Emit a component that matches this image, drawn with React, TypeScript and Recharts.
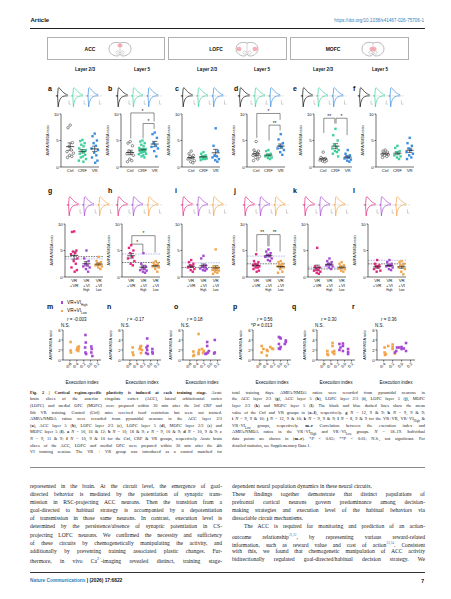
import React from "react";
import {
  ScatterChart,
  Scatter,
  LineChart,
  Line,
  XAxis,
  YAxis,
  ErrorBar,
  ReferenceLine,
  ReferenceDot,
} from "recharts";

const SANS = "'Liberation Sans', Arial, sans-serif";
const SERIF = "'Liberation Serif', 'DejaVu Serif', serif";

const GREEN = "#3fd19b";
const BLUE = "#3b8ee2";
const MAGENTA = "#e2297f";
const PURPLE = "#a64ad4";
const ORANGE = "#f3a54b";
const MEAN_BLUE = "#7f87e8";
const LINK = "#2f7fb9";

// ---- group names ----
const stageGroups = ["Ctrl", "CRF", "VR"];
const trainTickLines = [
  ["VR", "+VR", ""],
  ["VR", "+VI", "High"],
  ["VR", "+VI", "Low"],
];

// ---- a–f: AMPA/NMDA ratio (Ctrl, CRF, VR) ----
const aCtrl = [7.9, 7.4, 4.6, 3.9, 3.2, 2.9, 2.6, 2.2, 2.0, 1.8];
const aCrf = [5.1, 4.9, 4.5, 4.2, 3.9, 3.5, 3.2, 3.0, 2.8, 2.5, 2.3, 2.0, 1.8, 1.5, 1.2, 1.0];
const aVr = [6.3, 5.8, 5.0, 4.5, 4.0, 3.5, 3.2, 2.7, 2.2, 1.8, 1.2, 0.8];
const bCtrl = [4.8, 4.5, 4.0, 3.0, 2.7, 2.5, 2.2, 1.5, 1.2, 1.0];
const bCrf = [5.0, 4.8, 4.5, 4.2, 3.9, 3.6, 3.4, 3.3, 3.2, 3.0, 2.9, 2.8, 2.7, 2.5, 2.4, 2.2, 2.0, 1.8];
const bVr = [6.5, 6.2, 5.5, 4.5, 4.0, 3.8, 3.5, 3.0, 2.0];
const cCtrl = [3.0, 2.5, 2.2, 2.0, 1.8, 1.5, 1.2, 1.0, 0.8];
const cCrf = [2.8, 2.5, 2.2, 2.0, 2.0, 1.8, 1.6, 1.5, 1.5, 1.3];
const cVr = [7.3, 4.0, 3.0, 2.2, 2.0, 1.8, 1.5, 1.3, 1.0];
const dCtrl = [4.8, 3.2, 3.0, 2.7, 2.5, 2.2, 2.0, 1.8, 1.5, 1.2];
const dCrf = [3.2, 3.0, 2.5, 2.3, 2.2, 2.0, 1.8, 1.7, 1.5];
const dVr = [6.2, 5.2, 4.5, 4.0, 3.8, 3.5, 3.2, 2.8, 2.3];
const eCtrl = [2.8, 1.8, 1.6, 1.5, 1.4, 1.3, 1.2, 1.1, 1.0];
const eCrf = [7.2, 6.0, 5.0, 4.2, 3.8, 3.5, 3.2, 3.0, 2.8, 2.5, 2.0];
const eVr = [3.2, 2.5, 2.2, 2.0, 1.8, 1.6, 1.4, 1.2, 1.0];
const fCtrl = [3.2, 3.0, 2.8, 2.6, 2.5, 2.4, 2.3, 2.2, 2.0, 1.8];
const fCrf = [4.0, 3.6, 3.0, 2.8, 2.5, 2.2, 2.0, 1.8, 1.5];
const fVr = [5.5, 4.5, 4.0, 3.5, 3.2, 2.8, 2.5, 2.2, 1.8, 1.5];

// brackets: [from, to, height, left leg end, right leg end, label]
const bBrackets = [[1, 3, 10.2, 5.4, 8.6, "*"], [2, 3, 8.2, 5.4, 7.2, "*"]];
const dBrackets = [[1, 3, 10.1, 5.5, 8.9, "*"], [2, 3, 7.9, 5.0, 6.9, "**"]];
const eBrackets = [[1, 2, 9.2, 6.4, 8.2, "**"], [2, 3, 9.2, 8.2, 6.0, "*"]];

// ---- g–l: AMPA/NMDA ratio (VR+VR, VR+VI High, VR+VI Low) ----
const gVrVr = [8.6, 8.5, 5.0, 4.8, 4.5, 4.3, 3.5, 3.0, 2.5, 1.8, 1.3, 1.0];
const gHigh = [5.0, 3.5, 3.0, 2.5, 2.2, 2.0, 1.8, 1.5, 1.0];
const gLow = [3.8, 3.0, 2.8, 2.5, 2.3, 2.2, 2.0, 1.8, 1.5];
const hVrVr = [6.0, 5.5, 5.0, 4.5, 3.8, 3.5, 3.0, 2.5, 2.2];
const hHigh = [4.5, 2.5, 2.0, 1.8, 1.5, 1.3, 1.2, 1.0, 0.8];
const hLow = [3.0, 2.7, 2.5, 2.3, 2.2, 2.0, 1.8, 1.5, 1.0];
const iVrVr = [3.2, 2.8, 2.5, 2.2, 2.0, 1.8, 1.5, 1.3, 1.0];
const iHigh = [4.0, 3.5, 2.2, 2.0, 1.8, 1.6, 1.5, 1.3, 1.2];
const iLow = [5.2, 2.0, 1.8, 1.6, 1.5, 1.3, 1.2, 1.0, 0.8, 0.6];
const jVrVr = [4.3, 3.0, 2.8, 2.5, 2.3, 2.2, 2.0, 1.8, 1.8, 1.5, 1.2, 1.0];
const jHigh = [5.2, 4.8, 4.5, 4.2, 4.0, 3.8, 3.5, 3.2, 3.0];
const jLow = [3.0, 2.8, 2.5, 2.3, 2.1, 2.0, 1.8, 1.5, 1.0, 0.8];
const kVrVr = [5.5, 2.0, 1.8, 1.5, 1.3, 1.2, 1.0, 0.8, 0.6];
const kHigh = [3.5, 3.0, 2.8, 2.5, 2.3, 2.2, 2.0, 1.8, 1.5];
const kLow = [2.8, 2.5, 2.2, 2.0, 1.8, 1.6, 1.5, 1.2, 1.0];
const lVrVr = [3.2, 2.5, 2.2, 2.0, 1.8, 1.5, 1.2, 1.0];
const lHigh = [3.2, 2.8, 2.5, 2.3, 2.2, 2.0, 1.8, 1.5, 1.3];
const lLow = [3.0, 2.8, 2.5, 2.2, 2.0, 1.8, 1.5, 1.0, 0.5];

const hBrackets = [[1, 3, 7.8, 6.4, 4.6, "*"], [1, 2, 6.2, 6.4, 4.6, "*"]];
const jBrackets = [[1, 2, 8.0, 4.8, 5.8, "**"], [2, 3, 8.0, 5.8, 4.8, "**"]];

// ---- m–r: execution index vs AMPA/NMDA ratio ----
const mLow = [[-0.58, 3.6], [-0.58, 1.9], [-0.57, 1.5], [-0.38, 2.5], [-0.37, 2.1], [-0.36, 1.8], [-0.35, 2.3], [-0.4, 2.0], [-0.34, 2.7]];
const mHigh = [[-0.15, 5.0], [-0.14, 3.5], [-0.16, 2.5], [-0.15, 1.5], [-0.13, 1.2], [0.02, 2.7], [0.03, 2.2], [0.02, 1.5], [0.05, 0.8]];
const nLow = [[-0.52, 2.5], [-0.52, 1.5], [-0.5, 1.0], [-0.3, 2.6], [-0.3, 2.3], [-0.28, 1.4], [-0.25, 2.0], [-0.28, 2.8], [-0.32, 2.2]];
const nHigh = [[-0.1, 4.3], [-0.12, 2.5], [-0.1, 2.0], [-0.13, 1.4], [-0.08, 1.2], [-0.09, 2.8], [0.05, 2.2], [0.05, 1.6], [0.06, 1.3]];
const oLow = [[-0.5, 1.7], [-0.48, 1.0], [-0.5, 0.8], [-0.35, 5.2], [-0.35, 1.5], [-0.33, 2.0], [-0.35, 1.2], [-0.25, 2.2], [-0.2, 1.8], [-0.22, 1.4]];
const oHigh = [[-0.1, 3.6], [-0.1, 2.8], [-0.12, 1.3], [-0.08, 1.5], [-0.15, 1.2], [0.12, 4.0], [0.12, 1.5], [0.1, 1.3], [-0.05, 1.8]];
const pLow = [[-0.55, 2.8], [-0.55, 1.5], [-0.5, 2.2], [-0.4, 2.0], [-0.4, 0.9], [-0.38, 1.8], [-0.25, 2.3], [-0.22, 2.2], [-0.3, 2.6]];
const pHigh = [[-0.05, 4.6], [-0.02, 4.5], [0.0, 4.3], [-0.05, 3.2], [-0.02, 2.2], [0.0, 2.6], [0.15, 3.9], [0.15, 3.6], [0.12, 3.2], [-0.05, 2.3]];
const qLow = [[-0.5, 1.8], [-0.5, 1.2], [-0.48, 1.0], [-0.35, 3.4], [-0.35, 2.8], [-0.33, 1.5], [-0.3, 1.8], [-0.3, 1.2], [-0.35, 1.6]];
const qHigh = [[-0.15, 3.2], [-0.15, 2.0], [-0.05, 3.3], [-0.05, 1.8], [-0.05, 2.8], [0.1, 2.2], [0.1, 1.6], [0.1, 1.2], [-0.12, 2.5]];
const rLow = [[-0.38, 2.5], [-0.38, 1.5], [-0.37, 1.0], [-0.35, 1.2], [-0.3, 2.8], [-0.2, 3.1], [-0.2, 2.2], [-0.15, 1.3], [-0.2, 2.6]];
const rHigh = [[-0.1, 2.5], [-0.12, 1.8], [-0.05, 2.5], [0.0, 2.2], [0.0, 2.6], [0.1, 3.4], [0.1, 1.8], [-0.15, 1.5], [0.05, 2.3]];
const corrR = ["-0.003", "-0.17", "0.18", "0.56", "0.30", "0.36"];
const corrP = ["N.S.", "N.S.", "N.S.", "*P = 0.013", "N.S.", "N.S."];
const corrTicks = [-0.6, -0.4, -0.2, 0, 0.2];
const corrTicksR = [-0.4, -0.2, 0, 0.2];

// ---- example traces (+40 mV outward / -70 mV inward) ----
const traceT = [0, 1, 1.5, 2, 3, 4, 5, 6, 7, 8, 9];
const traceUp = [0, 0, 7, 7.5, 6.5, 5, 3.8, 2.8, 2, 1.4, 1];
const traceDown = [0, 0, -10, -6, -3, -1.5, -0.7, -0.3, 0, 0, 0];
const scaleT = [10, 10, 11.5];
const scaleV = [-4, -7.5, -7.5];

// ---- layout (page px) ----
const stageAxisX = [61, 121, 182, 247, 314, 376];
const trainAxisX = [65, 122, 182, 247, 308, 368];
const corrAxisX = [63, 123, 183, 253, 317, 377];
const traceX1 = [55, 115, 180, 237, 300, 357];
const traceX2 = [66, 115, 180, 242, 302, 363];
const letterX = [48, 108, 175, 234, 293, 353];

const stageSets = [
  [aCtrl, aCrf, aVr], [bCtrl, bCrf, bVr], [cCtrl, cCrf, cVr],
  [dCtrl, dCrf, dVr], [eCtrl, eCrf, eVr], [fCtrl, fCrf, fVr],
];
const stageBr = [[], bBrackets, [], dBrackets, eBrackets, []];
const trainSets = [
  [gVrVr, gHigh, gLow], [hVrVr, hHigh, hLow], [iVrVr, iHigh, iLow],
  [jVrVr, jHigh, jLow], [kVrVr, kHigh, kLow], [lVrVr, lHigh, lLow],
];
const trainBr = [[], hBrackets, [], jBrackets, [], []];
const corrSets = [[mLow, mHigh], [nLow, nHigh], [oLow, oHigh], [pLow, pHigh], [qLow, qHigh], [rLow, rHigh]];

const mean = (v: number[]) => v.reduce((s, x) => s + x, 0) / v.length;
const sem = (v: number[]) => {
  const m = mean(v);
  const sd = Math.sqrt(v.reduce((s, x) => s + (x - m) ** 2, 0) / (v.length - 1));
  return sd / Math.sqrt(v.length);
};

// horizontal spread of points inside a group (px)
const jitterPx = [0, -2.2, 2.2, -1.1, 1.1, -3.2, 3.2, -0.5, 1.6, -2.7, 2.7, 0.5, -1.6, 3.6, -3.6, 0.9, -0.9, 2];

const axisLine = { stroke: "#111", strokeWidth: 0.6 };
const tickFont = { fontSize: 4.3, fill: "#111", fontFamily: SANS };

function dotShape(color: string, open: boolean) {
  return (p: any) => {
    const cx = p.cx + jitterPx[(p.payload?.k ?? 0) % jitterPx.length];
    if (open)
      return <circle cx={cx} cy={p.cy} r={1.25} fill="#fff" stroke="#111" strokeWidth={0.45} />;
    return <rect x={cx - 1.2} y={p.cy - 1.2} width={2.4} height={2.4} fill={color} />;
  };
}

const meanShape = (p: any) => (
  <line x1={p.cx - 4} x2={p.cx + 4} y1={p.cy} y2={p.cy} stroke="#111" strokeWidth={0.7} />
);

function brackets(list: any[], key: string) {
  const out: any[] = [];
  list.forEach((b, i) => {
    const [from, to, h, l, r, label] = b;
    const x0 = from + 0.05;
    const x1 = to - 0.05;
    const seg = { stroke: "#222", strokeWidth: 0.5, ifOverflow: "visible" as const };
    out.push(<ReferenceLine key={`${key}h${i}`} segment={[{ x: x0, y: h }, { x: x1, y: h }]} {...seg} />);
    out.push(<ReferenceLine key={`${key}l${i}`} segment={[{ x: x0, y: h }, { x: x0, y: l }]} {...seg} />);
    out.push(<ReferenceLine key={`${key}r${i}`} segment={[{ x: x1, y: h }, { x: x1, y: r }]} {...seg} />);
    out.push(
      <ReferenceDot
        key={`${key}t${i}`}
        x={(from + to) / 2}
        y={h}
        r={0}
        ifOverflow="visible"
        label={{ value: label, position: "top", offset: 0.3, fontSize: 5, fill: "#111", fontFamily: SANS }}
      />
    );
  });
  return out;
}

function GroupPanel({ left, top, sets, colors, br, train, refs }: any) {
  const pts = sets.map((vals: number[], g: number) => vals.map((v, k) => ({ x: g + 1, y: v, k })));
  const means = sets.map((vals: number[], g: number) => ({ x: g + 1, y: mean(vals), e: sem(vals) }));
  return (
    <div style={{ position: "absolute", left: left - 16, top }}>
      <ScatterChart width={58} height={train ? 81 : 71} margin={{ top: 10, right: 4, bottom: 0, left: 0 }}>
        <XAxis
          type="number"
          dataKey="x"
          domain={[0.25, 3.35]}
          ticks={[1, 2, 3]}
          interval={0}
          tickFormatter={(v: number) => stageGroups[v - 1]}
          tickLine={false}
          tickSize={0}
          tickMargin={train ? 0.5 : 1.5}
          height={train ? 18 : 8}
          axisLine={axisLine}
          tick={train ? (p: any) => <TrainTick {...p} /> : tickFont}
        />
        <YAxis
          type="number"
          dataKey="y"
          domain={[0, 10]}
          ticks={[0, 5, 10]}
          interval={0}
          width={16}
          tickSize={1.5}
          tickMargin={0.8}
          axisLine={axisLine}
          tickLine={axisLine}
          tick={tickFont}
          label={{
            value: "AMPA/NMDA ratio",
            angle: -90,
            position: "insideLeft",
            offset: 3,
            style: { textAnchor: "middle" },
            fontSize: 3.7,
            fill: "#111",
            fontFamily: SANS,
          }}
        />
        {refs && (
          <ReferenceLine y={refs[1]} stroke={MEAN_BLUE} strokeDasharray="1.6 1" strokeWidth={0.55} />
        )}
        {refs && <ReferenceLine y={refs[0]} stroke="#111" strokeDasharray="1.6 1" strokeWidth={0.55} />}
        {brackets(br, "b")}
        {pts.map((d: any[], g: number) => (
          <Scatter
            key={g}
            data={d}
            shape={dotShape(colors[g], !train && g === 0)}
            isAnimationActive={false}
          />
        ))}
        <Scatter data={means} shape={meanShape} isAnimationActive={false}>
          <ErrorBar dataKey="e" direction="y" width={2.6} stroke="#111" strokeWidth={0.6} />
        </Scatter>
      </ScatterChart>
    </div>
  );
}

function TrainTick({ x, y, payload }: any) {
  const [a, b, c] = trainTickLines[payload.value - 1] || ["", "", ""];
  return (
    <text x={x} y={y} textAnchor="middle" fontSize={4.4} fill="#111" fontFamily={SANS}>
      <tspan x={x} dy={4.3}>{a}</tspan>
      <tspan x={x} dy={5.2}>{b}</tspan>
      <tspan x={x} dy={4.3} fontSize={3}>{c}</tspan>
    </text>
  );
}

function CorrPanel({ left, low, high, ticks, domain }: any) {
  const lowPts = low.map(([x, y]: number[]) => ({ x, y }));
  const highPts = high.map(([x, y]: number[]) => ({ x, y }));
  const sq = (c: string) => (p: any) => (
    <rect x={p.cx - 1.3} y={p.cy - 1.3} width={2.6} height={2.6} fill={c} />
  );
  return (
    <div style={{ position: "absolute", left: left - 14, top: 328 }}>
      <ScatterChart width={56} height={56} margin={{ top: 2, right: 4, bottom: 0, left: 0 }}>
        <XAxis
          type="number"
          dataKey="x"
          domain={domain}
          ticks={ticks}
          interval={0}
          tickFormatter={(v: number) => v.toFixed(1)}
          angle={-45}
          textAnchor="end"
          tickSize={1.5}
          tickMargin={0.5}
          height={24}
          axisLine={axisLine}
          tickLine={axisLine}
          tick={{ ...tickFont, fontSize: 4.1 }}
          label={{ value: "Execution index", position: "insideBottom", offset: 0, fontSize: 4.7, fill: "#111", fontFamily: SANS }}
        />
        <YAxis
          type="number"
          dataKey="y"
          domain={[0, 6]}
          ticks={[0, 2, 4, 6]}
          interval={0}
          width={14}
          tickSize={1.5}
          tickMargin={0.8}
          axisLine={axisLine}
          tickLine={axisLine}
          tick={tickFont}
          label={{
            value: "AMPA/NMDA ratio",
            angle: -90,
            position: "insideLeft",
            offset: 2,
            style: { textAnchor: "middle" },
            fontSize: 3.6,
            fill: "#111",
            fontFamily: SANS,
          }}
        />
        <Scatter data={lowPts} shape={sq(ORANGE)} isAnimationActive={false} />
        <Scatter data={highPts} shape={sq(PURPLE)} isAnimationActive={false} />
      </ScatterChart>
    </div>
  );
}

function TracePanel({ left, top, colors }: any) {
  const rows = (vals: number[], g: number) => vals.map((v, i) => ({ x: g * 12 + traceT[i], y: v }));
  const bar = (g: number) => scaleT.map((t, i) => ({ x: g * 12 + t, y: scaleV[i] }));
  return (
    <div style={{ position: "absolute", left, top }}>
      <LineChart width={47} height={22} margin={{ top: 0, right: 0, bottom: 0, left: 0 }}>
        <XAxis type="number" dataKey="x" domain={[-1, 36]} hide />
        <YAxis type="number" dataKey="y" domain={[-11, 9]} hide />
        <ReferenceLine y={0} stroke="#9a9a9a" strokeDasharray="0.8 0.8" strokeWidth={0.45} />
        {colors.map((c: string, g: number) => (
          <Line key={`u${g}`} data={rows(traceUp, g)} dataKey="y" stroke={c} strokeWidth={0.7} dot={false} isAnimationActive={false} />
        ))}
        {colors.map((c: string, g: number) => (
          <Line key={`d${g}`} data={rows(traceDown, g)} dataKey="y" stroke={c} strokeWidth={0.7} dot={false} isAnimationActive={false} />
        ))}
        {colors.map((c: string, g: number) => (
          <Line key={`s${g}`} data={bar(g)} dataKey="y" stroke="#8a8a8a" strokeWidth={0.4} dot={false} isAnimationActive={false} />
        ))}
      </LineChart>
    </div>
  );
}

function Txt({ x, y, size, children, bold, anchor, color, font, italic }: any) {
  const tr = anchor === "middle" ? "translateX(-50%)" : anchor === "end" ? "translateX(-100%)" : undefined;
  return (
    <div
      style={{
        position: "absolute",
        left: x,
        top: y - size * 0.6,
        fontSize: size,
        lineHeight: `${size * 1.2}px`,
        fontWeight: bold ? 700 : 400,
        fontStyle: italic ? "italic" : "normal",
        color: color || "#111",
        fontFamily: font || SANS,
        whiteSpace: "nowrap",
        transform: tr,
      }}
    >
      {children}
    </div>
  );
}

function Brain({ x, y, spots }: any) {
  return (
    <svg style={{ position: "absolute", left: x - 12, top: y - 8 }} width={24} height={16}>
      <path
        d="M12 2 C6 0 1 3 1 8 C1 12 5 15 9 15 C10.5 15 11.5 14 12 13 C12.5 14 13.5 15 15 15 C19 15 23 12 23 8 C23 3 18 0 12 2 Z"
        fill="#fff"
        stroke="#777"
        strokeWidth={0.5}
      />
      <line x1={12} y1={2} x2={12} y2={13} stroke="#999" strokeWidth={0.4} />
      <circle cx={9.5} cy={11.5} r={1.6} fill="none" stroke="#999" strokeWidth={0.4} />
      <circle cx={14.5} cy={11.5} r={1.6} fill="none" stroke="#999" strokeWidth={0.4} />
      {spots.map((s: number[], i: number) => (
        <ellipse key={i} cx={s[0]} cy={s[1]} rx={s[2]} ry={s[3]} fill="#f2a0a8" opacity={0.85} />
      ))}
    </svg>
  );
}

function Para({ lines, left, top, width, size, step, font, lastLeft, indent }: any) {
  return (
    <>
      {lines.map((ln: any, i: number) => (
        <div
          key={i}
          style={{
            position: "absolute",
            left: left + (indent && indent[0] === i ? indent[1] : 0),
            top: top + i * step - size * 0.6,
            width: width - (indent && indent[0] === i ? indent[1] : 0),
            fontSize: size,
            lineHeight: `${size * 1.2}px`,
            fontFamily: font,
            color: "#1a1a1a",
            whiteSpace: "nowrap",
            textAlign: "justify",
            textAlignLast: lastLeft && lastLeft.includes(i) ? "left" : "justify",
          }}
        >
          {ln}
        </div>
      ))}
    </>
  );
}

const capLeft = [
  <><b>Fig. 2 | Cortical region-specific plasticity is induced at each training stage.</b> Acute</>,
  <>brain slices of the anterior cingulate cortex (ACC), lateral orbitofrontal cortex</>,
  <>(LOFC) and medial OFC (MOFC) were prepared within 30 min after the 3rd CRF and</>,
  <>6th VR training. Control (Ctrl) mice received food restriction but were not trained.</>,
  <>AMPA/NMDA ratios were recorded from pyramidal neurons in the ACC layer 2/3</>,
  <>(<b>a</b>), ACC layer 5 (<b>b</b>), LOFC layer 2/3 (<b>c</b>), LOFC layer 5 (<b>d</b>), MOFC layer 2/3 (<b>e</b>) and</>,
  <>MOFC layer 5 (<b>f</b>). <b>a</b> <i>N</i> = 10, 16 &amp; 12; <b>b</b> <i>N</i> = 10, 18 &amp; 9; <b>c</b> <i>N</i> = 9, 10 &amp; 9; <b>d</b> <i>N</i> = 10, 9 &amp; 9; <b>e</b></>,
  <><i>N</i> = 9, 11 &amp; 9; <b>f</b> <i>N</i> = 10, 9 &amp; 10 for the Ctrl, CRF &amp; VR groups, respectively. Acute brain</>,
  <>slices of the ACC, LOFC and medial OFC were prepared within 30 min after the 4th</>,
  <>VI training session. The VR + VR group was introduced as a control matched for</>,
];

const capRight = [
  <>total training days. AMPA/NMDA ratios were recorded from pyramidal neurons in</>,
  <>the ACC layer 2/3 (<b>g</b>), ACC layer 5 (<b>h</b>), LOFC layer 2/3 (<b>i</b>), LOFC layer 5 (<b>j</b>), MOFC</>,
  <>layer 2/3 (<b>k</b>) and MOFC layer 5 (<b>l</b>). The black and blue dashed lines show the mean</>,
  <>value of the Ctrl and VR groups in (<b>a–f</b>), respectively. <b>g</b> <i>N</i> = 12, 9 &amp; 9; <b>h</b> <i>N</i> = 9, 9 &amp; 9;</>,
  <><b>i</b> <i>N</i> = 9, 9 &amp; 10; <b>j</b> <i>N</i> = 12, 9 &amp; 10; <b>k</b> <i>N</i> = 9, 9 &amp; 9; <b>l</b> <i>N</i> = 8, 9 &amp; 9 for the VR+VR, VR+VI<sub style={{ fontSize: "0.7em" }}>High</sub> &amp;</>,
  <>VR+VI<sub style={{ fontSize: "0.7em" }}>Low</sub> groups, respectively. <b>m–r</b> Correlation between the execution index and</>,
  <>AMPA/NMDA ratios in the VR+VI<sub style={{ fontSize: "0.7em" }}>High</sub> and VR+VI<sub style={{ fontSize: "0.7em" }}>Low</sub> groups. <i>N</i> = 18–19. Individual</>,
  <>data points are shown in (<b>m–r</b>). *<i>P</i> &lt; 0.05; **<i>P</i> &lt; 0.01; N.S., not significant. For</>,
  <>detailed statistics, see Supplementary Data 1.</>,
];

const bodyLeft = [
  "represented in the brain. At the circuit level, the emergence of goal-",
  "directed behavior is mediated by the potentiation of synaptic trans-",
  "mission in RSC-projecting ACC neurons. Then the transition from a",
  "goal-directed to habitual strategy is accompanied by a depotentiation",
  "of transmission in those same neurons. In contrast, execution level is",
  "determined by the persistence/absence of synaptic potentiation in CS-",
  "projecting LOFC neurons. We confirmed the necessity and sufficiency",
  "of these circuits by chemogenetically manipulating the activity, and",
  "additionally by preventing training associated plastic changes. Fur-",
  <>thermore, in vivo Ca<sup style={{ fontSize: "0.65em" }}>2+</sup>-imaging revealed distinct, training stage-</>,
];

const sup = (s: string) => <sup style={{ fontSize: "0.6em", color: LINK }}>{s}</sup>;
const bodyRight = [
  "dependent neural population dynamics in these neural circuits.",
  "These findings together demonstrate that distinct populations of",
  "prefrontal cortical neurons govern predominance among decision-",
  "making strategies and execution level of the habitual behaviors via",
  "dissociable circuit mechanisms.",
  "The ACC is required for monitoring and prediction of an action-",
  <>outcome relationship{sup("31,32")}, by representing various reward-related</>,
  <>information, such as reward value and cost of action{sup("33,34")}. Consistent</>,
  "with this, we found that chemogenetic manipulation of ACC activity",
  "bidirectionally regulated goal-directed/habitual decision strategy. We",
];

export default function App() {
  const stageColors = ["#111", GREEN, BLUE];
  const trainColors = [MAGENTA, PURPLE, ORANGE];
  return (
    <div
      style={{
        position: "absolute",
        left: 0,
        top: 0,
        width: 451,
        height: 599,
        background: "#fff",
        overflow: "hidden",
        fontFamily: SANS,
        color: "#111",
      }}
    >
      {/* header */}
      <Txt x={30.5} y={21} size={6} bold>Article</Txt>
      <Txt x={424} y={21} size={4.6} anchor="end" color={LINK}>https://doi.org/10.1038/s41467-026-75706-1</Txt>
      <div style={{ position: "absolute", left: 30, top: 28, width: 395, height: 0.8, background: "#222" }} />

      {/* region boxes */}
      {[[47, 165], [168, 287], [289.5, 408.5]].map(([l, r], i) => (
        <div key={i} style={{ position: "absolute", left: l, top: 37, width: r - l, height: 23, border: "0.7px solid #b0b0b0", boxSizing: "border-box" }} />
      ))}
      <Txt x={90} y={49} size={5} bold anchor="middle">ACC</Txt>
      <Txt x={216} y={49} size={5} bold anchor="middle">LOFC</Txt>
      <Txt x={333} y={49} size={5} bold anchor="middle">MOFC</Txt>
      <Brain x={119.5} y={49} spots={[[12, 4.5, 2.5, 2]]} />
      <Brain x={246.5} y={49} spots={[[4, 8, 2.5, 2.2], [20, 8, 2.5, 2.2]]} />
      <Brain x={372.5} y={49} spots={[[12, 8, 3.5, 2.2]]} />
      {[85, 142, 207, 262, 323, 380].map((x, i) => (
        <Txt key={i} x={x} y={70} size={4.6} bold anchor="middle">{i % 2 === 0 ? "Layer 2/3" : "Layer 5"}</Txt>
      ))}

      {/* row a–f */}
      {["a", "b", "c", "d", "e", "f"].map((s, i) => (
        <Txt key={s} x={letterX[i]} y={89} size={7} bold>{s}</Txt>
      ))}
      {traceX1.map((x, i) => (
        <TracePanel key={i} left={x} top={85.5} colors={stageColors} />
      ))}
      {stageSets.map((sets, i) => (
        <GroupPanel key={i} left={stageAxisX[i]} top={104} sets={sets} colors={stageColors} br={stageBr[i]} />
      ))}

      {/* row g–l */}
      {["g", "h", "i", "j", "k", "l"].map((s, i) => (
        <Txt key={s} x={letterX[i]} y={191} size={7} bold>{s}</Txt>
      ))}
      {traceX2.map((x, i) => (
        <TracePanel key={i} left={x} top={195} colors={trainColors} />
      ))}
      {trainSets.map((sets, i) => (
        <GroupPanel
          key={i}
          left={trainAxisX[i]}
          top={214}
          sets={sets}
          colors={trainColors}
          br={trainBr[i]}
          train
          refs={[mean(stageSets[i][0]), mean(stageSets[i][2])]}
        />
      ))}

      {/* row m–r */}
      {["m", "n", "o", "p", "q", "r"].map((s, i) => (
        <Txt key={s} x={letterX[i] - 1} y={307} size={7} bold>{s}</Txt>
      ))}
      <div style={{ position: "absolute", left: 60.5, top: 301.3, width: 2.6, height: 2.6, background: PURPLE }} />
      <Txt x={67} y={302.5} size={4.8}>VR+VI<sub style={{ fontSize: "0.65em" }}>High</sub></Txt>
      <div style={{ position: "absolute", left: 60.5, top: 309.5, width: 2.6, height: 2.6, background: ORANGE }} />
      <Txt x={67} y={310.8} size={4.8}>VR+VI<sub style={{ fontSize: "0.65em" }}>Low</sub></Txt>
      {corrSets.map(([low, high], i) => (
        <CorrPanel
          key={i}
          left={corrAxisX[i]}
          low={low}
          high={high}
          ticks={i === 5 ? corrTicksR : corrTicks}
          domain={i === 5 ? [-0.55, 0.3] : [-0.8, 0.3]}
        />
      ))}
      {corrAxisX.map((x, i) => (
        <React.Fragment key={i}>
          <Txt x={x + 4} y={320} size={4.5}><i>r</i> = {corrR[i]}</Txt>
          <Txt x={x - 2} y={325.5} size={4.5}>{corrP[i].startsWith("*") ? <>*<i>P</i>{corrP[i].slice(2)}</> : corrP[i]}</Txt>
        </React.Fragment>
      ))}

      {/* caption */}
      <Para lines={capLeft} left={30} top={392.5} width={192} size={4.35} step={6.6} font={SERIF} />
      <Para lines={capRight} left={232} top={392.5} width={193} size={4.35} step={6.6} font={SERIF} lastLeft={[8]} />
      <div style={{ position: "absolute", left: 30, top: 466.5, width: 395, height: 1.4, background: "#8a8a8a" }} />

      {/* body text */}
      <Para lines={bodyLeft} left={30} top={486} width={192} size={5.6} step={8.15} font={SERIF} />
      <Para lines={bodyRight} left={232} top={486} width={193} size={5.6} step={8.15} font={SERIF} lastLeft={[0, 4]} indent={[5, 12]} />

      {/* footer */}
      <div style={{ position: "absolute", left: 30, top: 571.5, width: 395, height: 0.6, background: "#333" }} />
      <Txt x={30} y={580.7} size={4.8}>
        <span style={{ color: LINK, fontWeight: 700 }}>Nature Communications</span>
        <span style={{ fontWeight: 700 }}> | (2026) 17:6822</span>
      </Txt>
      <Txt x={424} y={580.7} size={5} bold anchor="end">7</Txt>
    </div>
  );
}
